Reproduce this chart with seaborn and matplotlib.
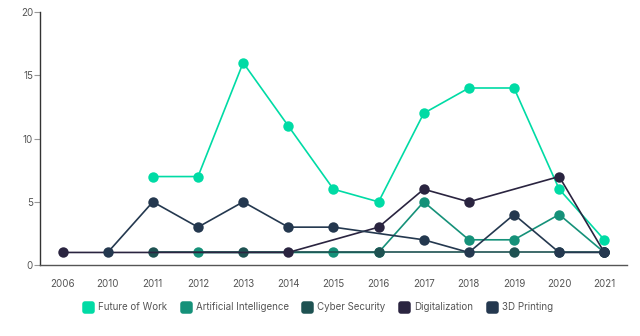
import matplotlib
matplotlib.use("Agg")
import matplotlib.pyplot as plt
from matplotlib.lines import Line2D
from matplotlib.patches import FancyBboxPatch
import seaborn as sns
import pandas as pd

sns.set_theme(style="white")
plt.rcParams["font.family"] = ["Inter", "DejaVu Sans"]

years = ["2006", "2010", "2011", "2012", "2013", "2014", "2015",
         "2016", "2017", "2018", "2019", "2020", "2021"]

series_names = ["Future of Work", "Artificial Intelligence", "Cyber Security",
                "Digitalization", "3D Printing"]
colors = ["#00dba5", "#159179", "#1e5252", "#2a2440", "#24384f"]

future_years = ["2011", "2012", "2013", "2014", "2015", "2016", "2017", "2018", "2019", "2020", "2021"]
future_vals = [7, 7, 16, 11, 6, 5, 12, 14, 14, 6, 2]

ai_years = ["2012", "2015", "2016", "2017", "2018", "2019", "2020", "2021"]
ai_vals = [1, 1, 1, 5, 2, 2, 4, 1]

cyber_years = ["2011", "2013", "2016", "2019", "2020", "2021"]
cyber_vals = [1, 1, 1, 1, 1, 1]

digital_years = ["2006", "2014", "2016", "2017", "2018", "2020", "2021"]
digital_vals = [1, 1, 3, 6, 5, 7, 1]

printing_years = ["2010", "2011", "2012", "2013", "2014", "2015", "2017", "2018", "2019", "2020", "2021"]
printing_vals = [1, 5, 3, 5, 3, 3, 2, 1, 4, 1, 1]

series = [
    (future_years, future_vals),
    (ai_years, ai_vals),
    (cyber_years, cyber_vals),
    (digital_years, digital_vals),
    (printing_years, printing_vals),
]

fig = plt.figure(figsize=(6.4, 3.36), dpi=100)
ax = fig.add_axes([0.0625, 0.211, 0.917, 0.753])

for name, color, (yrs, vals) in zip(series_names, colors, series):
    df = pd.DataFrame({"pos": [years.index(y) for y in yrs], "value": vals})
    sns.lineplot(data=df, x="pos", y="value", ax=ax, color=color,
                 linewidth=1.2, marker="o", markersize=7.5, markeredgewidth=0,
                 sort=False, legend=False)

ax.set_xlim(-0.5, len(years) - 0.5)
ax.set_ylim(0, 20)
ax.set_xticks(range(len(years)))
ax.set_xticklabels(years)
ax.set_yticks([0, 5, 10, 15, 20])
ax.set_xlabel("")
ax.set_ylabel("")

for side in ["top", "right"]:
    ax.spines[side].set_visible(False)
ax.spines["left"].set_color("#333333")
ax.spines["left"].set_linewidth(1.0)
ax.spines["bottom"].set_color("#555555")
ax.spines["bottom"].set_linewidth(1.0)

ax.tick_params(axis="y", which="both", left=True, length=4, width=0.8,
               color="#999999", labelsize=7, labelcolor="#555555", pad=1)
ax.tick_params(axis="x", which="both", bottom=False, labelsize=7,
               labelcolor="#555555", pad=4)
ax.grid(False)

# rounded-square swatch for the legend entries
swatch = FancyBboxPatch((-0.5, -0.5), 1, 1,
                        boxstyle="round,pad=0,rounding_size=0.22").get_path()

handles = [Line2D([0], [0], marker=swatch, linestyle="none", markersize=9,
                  markerfacecolor=c, markeredgewidth=0) for c in colors]
fig.legend(handles, series_names, loc="center", bbox_to_anchor=(0.497, 0.085),
           ncol=5, frameon=False, fontsize=7, labelcolor="#555555",
           handletextpad=0.55, columnspacing=1.4, handlelength=1.0)

fig.savefig("out.png", dpi=100)
